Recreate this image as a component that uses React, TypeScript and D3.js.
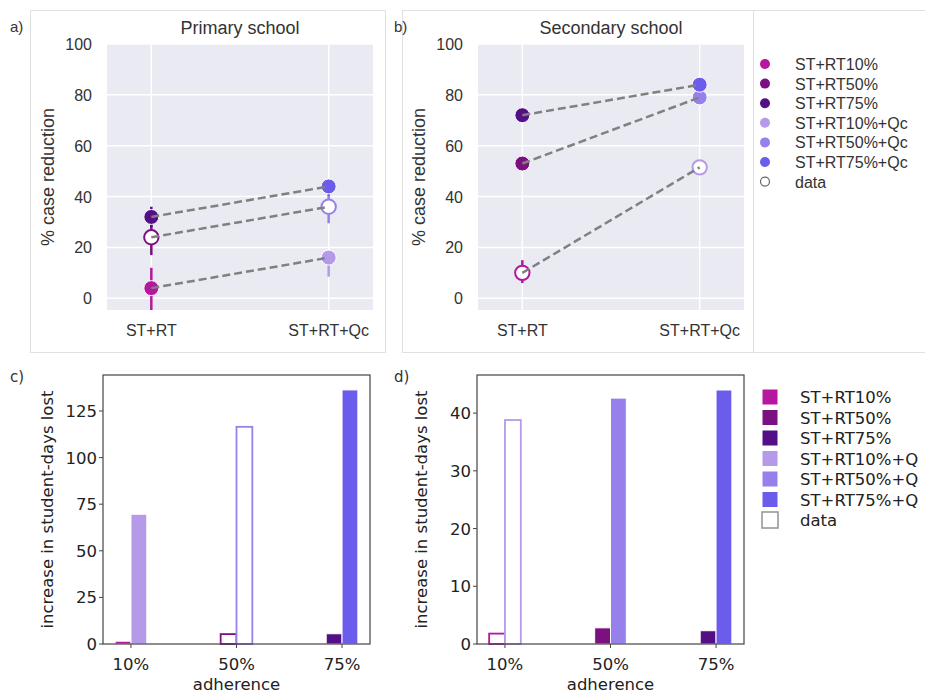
import React from "react";
import * as d3 from "d3";

const width = 925;
const height = 693;

// series / categories
const groups = ["ST+RT", "ST+RT+Qc"];
const adherence = ["10%", "50%", "75%"];
const rtColors = ["#b5179e", "#7b1080", "#520f86"];
const qColors = ["#b49ae9", "#9780ec", "#6c5cec"];
const topLegend = ["ST+RT10%", "ST+RT50%", "ST+RT75%", "ST+RT10%+Qc", "ST+RT50%+Qc", "ST+RT75%+Qc", "data"];
const bottomLegend = ["ST+RT10%", "ST+RT50%", "ST+RT75%", "ST+RT10%+Q", "ST+RT50%+Q", "ST+RT75%+Q", "data"];

// % case reduction, primary school
const primaryRT = [4, 24, 32];
const primaryRTLow = [-8, 17, 28];
const primaryRTHigh = [12, 30, 36];
const primaryQc = [16, 36, 44];
const primaryQcLow = [8.5, 29.5, 40];
const primaryQcHigh = [16.5, 40, 44.5];
const primaryDataIndex = 1;

// % case reduction, secondary school
const secondaryRT = [10, 53, 72];
const secondaryRTLow = [6, 50.5, 71];
const secondaryRTHigh = [15, 55, 73];
const secondaryQc = [51.5, 79, 84];
const secondaryQcLow = [50, 78, 83];
const secondaryQcHigh = [53, 80, 85];
const secondaryDataIndex = 0;

// increase in student-days lost
const primaryDaysRT = [1.5, 5.3, 5.5];
const primaryDaysQ = [69.6, 116.5, 136.3];
const secondaryDaysRT = [1.8, 2.8, 2.3];
const secondaryDaysQ = [38.8, 42.6, 44.0];

const yTicksTop = [0, 20, 40, 60, 80, 100];
const arial = "'Liberation Sans', Arial, sans-serif";
const dejavu = "'DejaVu Sans', sans-serif";

function PointPanel({ left, title, rt, rtLow, rtHigh, qc, qcLow, qcHigh, dataIndex }) {
  const x0 = left, x1 = left + 266, yTop = 44, yBot = 310;
  const x = d3.scalePoint().domain(groups).range([x0, x1]).padding(0.25);
  const y = d3.scaleLinear().domain([-4.6, 100]).range([yBot, yTop]);
  const cols = [rtColors, qColors];
  const vals = [rt, qc];
  const lows = [rtLow, qcLow];
  const highs = [rtHigh, qcHigh];
  const clipId = "clip" + left;
  return (
    <g>
      <defs>
        <clipPath id={clipId}>
          <rect x={x0} y={yTop} width={x1 - x0} height={yBot - yTop} />
        </clipPath>
      </defs>
      <rect x={x0} y={yTop} width={x1 - x0} height={yBot - yTop} fill="#eaeaf2" />
      {yTicksTop.map(t => (
        <g key={t}>
          <line x1={x0} x2={x1} y1={y(t)} y2={y(t)} stroke="#fff" strokeWidth={1.5} />
          <text x={x0 - 15} y={y(t) + 6} textAnchor="end" fontSize={16} fill="#333" fontFamily={arial}>{t}</text>
        </g>
      ))}
      {groups.map(g => (
        <g key={g}>
          <line x1={x(g)} x2={x(g)} y1={yTop} y2={yBot} stroke="#fff" strokeWidth={1.5} />
          <text x={x(g)} y={336} textAnchor="middle" fontSize={16} fill="#333" fontFamily={arial}>{g}</text>
        </g>
      ))}
      <text x={x0 + 133} y={34} textAnchor="middle" fontSize={18} fill="#333" fontFamily={arial}>{title}</text>
      <text transform={`translate(${x0 - 53},${(yTop + yBot) / 2}) rotate(-90)`} textAnchor="middle" fontSize={18} fill="#333" fontFamily={arial}>% case reduction</text>
      <g clipPath={`url(#${clipId})`}>
        {groups.map((g, gi) =>
          vals[gi].map((v, i) => (
            <line key={g + i} x1={x(g)} x2={x(g)} y1={y(lows[gi][i])} y2={y(highs[gi][i])} stroke={cols[gi][i]} strokeWidth={2.5} />
          ))
        )}
        {groups.map((g, gi) =>
          vals[gi].map((v, i) => i === dataIndex ? (
            <circle key={g + i} cx={x(g)} cy={y(v)} r={7.2} fill="#fff" stroke={cols[gi][i]} strokeWidth={2} />
          ) : (
            <circle key={g + i} cx={x(g)} cy={y(v)} r={7.5} fill={cols[gi][i]} stroke="#fff" strokeWidth={1} />
          ))
        )}
        {rt.map((v, i) => (
          <line key={i} x1={x(groups[0])} y1={y(v)} x2={x(groups[1])} y2={y(qc[i])} stroke="#808080" strokeWidth={2.5} strokeDasharray="8,4" />
        ))}
      </g>
    </g>
  );
}

function BarPanel({ left, rt, q, dataIndex, yMax, ticks }) {
  const x0 = left, x1 = left + 267, yTop = 375, yBot = 644;
  const x = d3.scaleLinear().domain([-0.265, 2.265]).range([x0, x1]);
  const y = d3.scaleLinear().domain([0, yMax]).range([yBot, yTop]);
  const w = 0.15;
  return (
    <g>
      {adherence.map((a, i) => {
        const isData = i === dataIndex;
        const bars = [
          { x: i - w, v: rt[i], c: rtColors[i] },
          { x: i, v: q[i], c: qColors[i] }
        ];
        return (
          <g key={a}>
            {bars.map((b, k) => (
              <rect key={k} x={x(b.x)} y={y(b.v)} width={x(w) - x(0)} height={yBot - y(b.v)}
                fill={isData ? "#fff" : b.c} stroke={isData ? b.c : "#fff"} strokeWidth={isData ? 1.8 : 1} />
            ))}
          </g>
        );
      })}
      <rect x={x0} y={yTop} width={x1 - x0} height={yBot - yTop} fill="none" stroke="#444" strokeWidth={1.2} />
      {ticks.map(t => (
        <g key={t}>
          <line x1={x0 - 4} x2={x0} y1={y(t)} y2={y(t)} stroke="#444" />
          <text x={x0 - 6} y={y(t) + 6} textAnchor="end" fontSize={16.5} fill="#222" fontFamily={dejavu}>{t}</text>
        </g>
      ))}
      {adherence.map((a, i) => (
        <g key={a}>
          <line x1={x(i)} x2={x(i)} y1={yBot} y2={yBot + 4} stroke="#444" />
          <text x={x(i)} y={670} textAnchor="middle" fontSize={16.5} fill="#222" fontFamily={dejavu}>{a}</text>
        </g>
      ))}
      <text x={(x0 + x1) / 2} y={690} textAnchor="middle" fontSize={16.5} fill="#222" fontFamily={dejavu}>adherence</text>
      <text transform={`translate(${x0 - 50},${(yTop + yBot) / 2}) rotate(-90)`} textAnchor="middle" fontSize={16.5} fill="#222" fontFamily={dejavu}>increase in student-days lost</text>
    </g>
  );
}

export default function App() {
  const legendColors = [...rtColors, ...qColors];
  return (
    <svg width={width} height={height} style={{ position: "absolute", left: 0, top: 0, background: "#fff" }}>
      <rect x={30.5} y={10.5} width={355} height={342} fill="none" stroke="#e0e0e0" />
      <rect x={402.5} y={10.5} width={351} height={342} fill="none" stroke="#e0e0e0" />
      <line x1={753} x2={925} y1={10.5} y2={10.5} stroke="#e0e0e0" />
      <line x1={753} x2={925} y1={352.5} y2={352.5} stroke="#e0e0e0" />

      <text x={10} y={32} fontSize={15} fill="#333" fontFamily={arial}>a)</text>
      <text x={394} y={32} fontSize={15} fill="#333" fontFamily={arial}>b)</text>
      <text x={10} y={382} fontSize={15} fill="#333" fontFamily={dejavu}>c)</text>
      <text x={394} y={382} fontSize={15} fill="#333" fontFamily={dejavu}>d)</text>

      <PointPanel left={107} title="Primary school" rt={primaryRT} rtLow={primaryRTLow} rtHigh={primaryRTHigh}
        qc={primaryQc} qcLow={primaryQcLow} qcHigh={primaryQcHigh} dataIndex={primaryDataIndex} />
      <PointPanel left={478} title="Secondary school" rt={secondaryRT} rtLow={secondaryRTLow} rtHigh={secondaryRTHigh}
        qc={secondaryQc} qcLow={secondaryQcLow} qcHigh={secondaryQcHigh} dataIndex={secondaryDataIndex} />

      {topLegend.map((s, i) => (
        <g key={s}>
          {i < 6 ? (
            <circle cx={765} cy={64 + i * 19.6} r={5} fill={legendColors[i]} />
          ) : (
            <circle cx={765} cy={64 + i * 19.6} r={4.5} fill="#fff" stroke="#666" strokeWidth={1.2} />
          )}
          <text x={795} y={64 + i * 19.6 + 6} fontSize={16} fill="#333" fontFamily={arial}>{s}</text>
        </g>
      ))}

      <BarPanel left={103} rt={primaryDaysRT} q={primaryDaysQ} dataIndex={1} yMax={144.3} ticks={[0, 25, 50, 75, 100, 125]} />
      <BarPanel left={477} rt={secondaryDaysRT} q={secondaryDaysQ} dataIndex={0} yMax={46.6} ticks={[0, 10, 20, 30, 40]} />

      {bottomLegend.map((s, i) => (
        <g key={s}>
          <rect x={762} y={389 + i * 20.5} width={16} height={16}
            fill={i < 6 ? legendColors[i] : "#fff"} stroke={i < 6 ? "#fff" : "#999"} strokeWidth={i < 6 ? 1 : 1.6} />
          <text x={800} y={397 + i * 20.5 + 6} fontSize={16.5} fill="#222" fontFamily={dejavu}>{s}</text>
        </g>
      ))}
    </svg>
  );
}
